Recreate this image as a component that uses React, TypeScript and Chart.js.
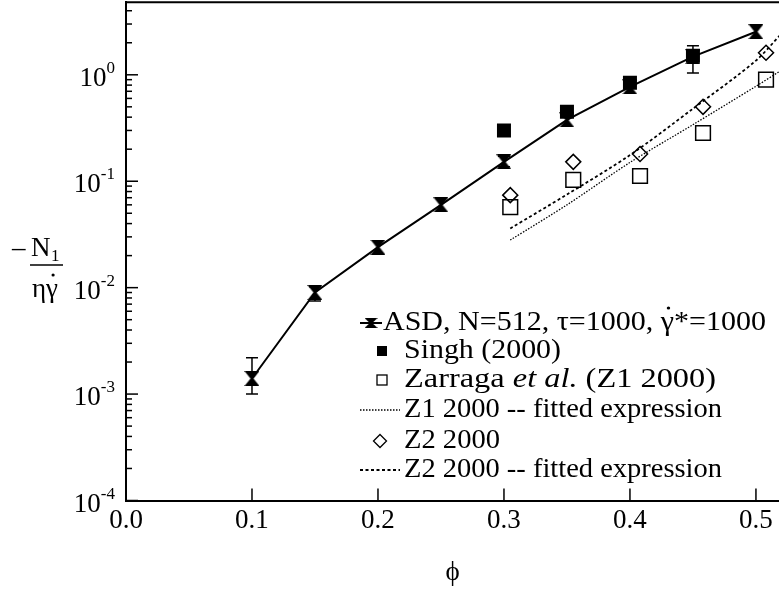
import { useEffect, useRef } from "react";
import { Chart, registerables } from "chart.js";
Chart.register(...registerables);

const SERIF = "'Liberation Serif', 'DejaVu Serif', serif";

// ---- data ----
const xTickValues = [0.0, 0.1, 0.2, 0.3, 0.4, 0.5];
const yDecades = [-4, -3, -2, -1, 0];

const asdPhi = [0.1, 0.15, 0.2, 0.25, 0.3, 0.35, 0.4, 0.45, 0.5];
const asdN1 = [0.0014, 0.009, 0.024, 0.06, 0.152, 0.377, 0.77, 1.48, 2.54];
const asdErrLow = [0.001, 0.0075, null, null, 0.137, null, null, 1.04, null];
const asdErrHigh = [0.0022, 0.0102, null, null, 0.172, null, null, 1.87, null];

const singhPhi = [0.3, 0.35, 0.4, 0.45];
const singhN1 = [0.3, 0.45, 0.84, 1.51];

const z1Phi = [0.305, 0.355, 0.408, 0.458, 0.508];
const z1N1 = [0.057, 0.103, 0.112, 0.284, 0.9];

const z2Phi = [0.305, 0.355, 0.408, 0.458, 0.508];
const z2N1 = [0.074, 0.152, 0.18, 0.5, 1.61];

const z1FitPhi = [0.305, 0.35, 0.4, 0.45, 0.5, 0.52];
const z1FitN1 = [0.028, 0.06, 0.15, 0.34, 0.78, 1.1];

const z2FitPhi = [0.305, 0.35, 0.4, 0.45, 0.5, 0.52];
const z2FitN1 = [0.036, 0.075, 0.176, 0.48, 1.36, 2.42];

const zip = (xs: number[], ys: number[]) => xs.map((x, i) => ({ x, y: ys[i] }));

function makeHourglass(w: number, h: number, waist: number) {
  const c = document.createElement("canvas");
  c.width = w;
  c.height = h;
  const g = c.getContext("2d")!;
  g.fillStyle = "#000";
  g.beginPath();
  g.moveTo(0, 0);
  g.lineTo(w, 0);
  g.lineTo(w / 2 + waist / 2, h / 2);
  g.lineTo(w, h);
  g.lineTo(0, h);
  g.lineTo(w / 2 - waist / 2, h / 2);
  g.closePath();
  g.fill();
  return c;
}

type Part = { t: string; italic?: boolean; dot?: boolean };

function drawRow(ctx: CanvasRenderingContext2D, parts: Part[], x: number, y: number, size: number, target: number) {
  const fontFor = (p: Part) => `${p.italic ? "italic " : ""}${size}px ${SERIF}`;
  let natural = 0;
  parts.forEach((p) => {
    ctx.font = fontFor(p);
    natural += ctx.measureText(p.t).width;
  });
  const sx = target / natural;
  ctx.save();
  ctx.translate(x, y);
  ctx.scale(sx, 1);
  let cx = 0;
  parts.forEach((p) => {
    ctx.font = fontFor(p);
    ctx.fillText(p.t, cx, 0);
    const w = ctx.measureText(p.t).width;
    if (p.dot) {
      ctx.beginPath();
      ctx.arc(cx + w / 2 + 1, -15, 1.6, 0, Math.PI * 2);
      ctx.fill();
    }
    cx += w;
  });
  ctx.restore();
}

export default function App() {
  const ref = useRef<HTMLCanvasElement>(null);

  useEffect(() => {
    const canvas = ref.current!;
    const hg = makeHourglass(15, 15, 3);

    const extras = {
      id: "extras",
      beforeDatasetsDraw(chart: any) {
        const ctx = chart.ctx;
        const xs = chart.scales.x;
        const ys = chart.scales.y;
        ctx.save();
        ctx.strokeStyle = "#000";
        ctx.lineWidth = 1.5;
        asdPhi.forEach((p, i) => {
          const lo = asdErrLow[i];
          const hi = asdErrHigh[i];
          if (lo == null || hi == null) return;
          const x = xs.getPixelForValue(p);
          const y1 = ys.getPixelForValue(lo);
          const y2 = ys.getPixelForValue(hi);
          ctx.beginPath();
          ctx.moveTo(x, y1);
          ctx.lineTo(x, y2);
          ctx.moveTo(x - 6, y1);
          ctx.lineTo(x + 6, y1);
          ctx.moveTo(x - 6, y2);
          ctx.lineTo(x + 6, y2);
          ctx.stroke();
        });
        ctx.restore();
      },
      afterDraw(chart: any) {
        const ctx = chart.ctx;
        const xs = chart.scales.x;
        const ys = chart.scales.y;
        const a = chart.chartArea;
        ctx.save();
        ctx.strokeStyle = "#000";
        ctx.fillStyle = "#000";
        // top frame
        ctx.lineWidth = 2;
        ctx.beginPath();
        ctx.moveTo(a.left - 1, a.top);
        ctx.lineTo(a.right, a.top);
        ctx.stroke();
        // x ticks (inward)
        ctx.lineWidth = 1.5;
        xTickValues.forEach((v) => {
          if (v === 0) return;
          const x = xs.getPixelForValue(v);
          ctx.beginPath();
          ctx.moveTo(x, a.bottom);
          ctx.lineTo(x, a.bottom - 12);
          ctx.stroke();
        });
        // y ticks (inward), major + minor
        for (let e = -4; e <= 0; e++) {
          for (let m = 1; m <= 9; m++) {
            const v = m * Math.pow(10, e);
            if (v > ys.max) continue;
            const y = ys.getPixelForValue(v);
            const len = m === 1 ? 12 : 6;
            ctx.beginPath();
            ctx.moveTo(a.left, y);
            ctx.lineTo(a.left + len, y);
            ctx.stroke();
          }
        }
        // y tick labels 10^e
        yDecades.forEach((e) => {
          const y = ys.getPixelForValue(Math.pow(10, e));
          const expStr = e === 0 ? "0" : "-" + Math.abs(e);
          ctx.font = `27px ${SERIF}`;
          const bw = ctx.measureText("10").width;
          ctx.font = `17px ${SERIF}`;
          const ew = ctx.measureText(expStr).width;
          const right = 115;
          const bx = right - ew - bw;
          ctx.textAlign = "left";
          ctx.textBaseline = "alphabetic";
          ctx.font = `27px ${SERIF}`;
          ctx.fillText("10", bx, y + 11);
          ctx.font = `17px ${SERIF}`;
          ctx.fillText(expStr, bx + bw, y - 2);
        });
        // y axis title: -N1 / eta gamma-dot
        ctx.textBaseline = "middle";
        ctx.textAlign = "left";
        ctx.font = `27px ${SERIF}`;
        ctx.fillText("\u2013", 12, 249);
        ctx.fillText("N", 31, 249);
        ctx.font = `17px ${SERIF}`;
        ctx.fillText("1", 51, 257);
        ctx.lineWidth = 1.3;
        ctx.beginPath();
        ctx.moveTo(30, 265);
        ctx.lineTo(63, 265);
        ctx.stroke();
        ctx.font = `27px ${SERIF}`;
        ctx.fillText("\u03B7", 32, 290);
        const etaW = ctx.measureText("\u03B7").width;
        ctx.fillText("\u03B3", 32 + etaW, 290);
        const gW = ctx.measureText("\u03B3").width;
        ctx.beginPath();
        ctx.arc(32 + etaW + gW / 2 + 1, 275, 1.6, 0, Math.PI * 2);
        ctx.fill();

        // legend
        const rowY = [323, 351, 380, 410, 441, 470];
        const tx = 404;
        const fs = 28;
        ctx.textBaseline = "middle";
        // 1 ASD
        ctx.lineWidth = 2;
        ctx.beginPath();
        ctx.moveTo(360, rowY[0]);
        ctx.lineTo(382, rowY[0]);
        ctx.stroke();
        ctx.drawImage(hg, 364.5, rowY[0] - 5, 13, 10);
        drawRow(ctx, [{ t: "ASD, N=512, \u03C4=1000, " }, { t: "\u03B3", dot: true }, { t: "*=1000" }], 383, rowY[0], fs, 383);
        // 2 Singh
        ctx.fillRect(382 - 5, rowY[1] - 5, 10, 10);
        drawRow(ctx, [{ t: "Singh (2000)" }], tx, rowY[1], fs, 157);
        // 3 Zarraga
        ctx.lineWidth = 1.3;
        ctx.strokeRect(382 - 5, rowY[2] - 5, 10, 10);
        drawRow(ctx, [{ t: "Zarraga " }, { t: "et al.", italic: true }, { t: " (Z1 2000)" }], tx, rowY[2], fs, 312);
        // 4 Z1 fit
        ctx.lineWidth = 1.3;
        ctx.setLineDash([1.5, 1.5]);
        ctx.beginPath();
        ctx.moveTo(360, rowY[3]);
        ctx.lineTo(400, rowY[3]);
        ctx.stroke();
        ctx.setLineDash([]);
        drawRow(ctx, [{ t: "Z1 2000 -- fitted expression" }], tx, rowY[3], fs, 318);
        // 5 diamond
        ctx.lineWidth = 1.3;
        ctx.beginPath();
        ctx.moveTo(380, rowY[4] - 6.5);
        ctx.lineTo(386.5, rowY[4]);
        ctx.lineTo(380, rowY[4] + 6.5);
        ctx.lineTo(373.5, rowY[4]);
        ctx.closePath();
        ctx.stroke();
        drawRow(ctx, [{ t: "Z2 2000" }], tx, rowY[4], fs, 96);
        // 6 Z2 fit
        ctx.lineWidth = 1.8;
        ctx.setLineDash([3, 2.5]);
        ctx.beginPath();
        ctx.moveTo(360, rowY[5]);
        ctx.lineTo(400, rowY[5]);
        ctx.stroke();
        ctx.setLineDash([]);
        drawRow(ctx, [{ t: "Z2 2000 -- fitted expression" }], tx, rowY[5], fs, 318);
        ctx.restore();
      },
    };

    const zeroPad = (s: any) => {
      s.paddingLeft = 0;
      s.paddingRight = 0;
      s.paddingTop = 0;
      s.paddingBottom = 0;
    };

    const chart = new Chart(canvas, {
      type: "line",
      data: {
        datasets: [
          {
            label: "Singh (2000)",
            data: zip(singhPhi, singhN1),
            showLine: false,
            pointStyle: "rect",
            pointRadius: 9.9,
            backgroundColor: "#000",
            borderColor: "#000",
            borderWidth: 0,
            order: 0,
          },
          {
            label: "ASD, N=512, τ=1000, γ*=1000",
            data: zip(asdPhi, asdN1),
            borderColor: "#000",
            borderWidth: 2,
            pointStyle: hg,
            pointRadius: 8,
            tension: 0,
            order: 1,
          },
          {
            label: "Zarraga et al. (Z1 2000)",
            data: zip(z1Phi, z1N1),
            showLine: false,
            pointStyle: "rect",
            pointRadius: 10.4,
            backgroundColor: "rgba(255,255,255,0)",
            borderColor: "#000",
            borderWidth: 1.5,
            order: 2,
          },
          {
            label: "Z2 2000",
            data: zip(z2Phi, z2N1),
            showLine: false,
            pointStyle: "rectRot",
            pointRadius: 7.5,
            backgroundColor: "rgba(255,255,255,0)",
            borderColor: "#000",
            borderWidth: 1.5,
            order: 3,
          },
          {
            label: "Z1 2000 -- fitted expression",
            data: zip(z1FitPhi, z1FitN1),
            borderColor: "#000",
            borderWidth: 1.3,
            borderDash: [1.5, 1.5],
            pointRadius: 0,
            tension: 0.3,
            order: 4,
          },
          {
            label: "Z2 2000 -- fitted expression",
            data: zip(z2FitPhi, z2FitN1),
            borderColor: "#000",
            borderWidth: 1.8,
            borderDash: [3, 2.5],
            pointRadius: 0,
            tension: 0.3,
            order: 5,
          },
        ],
      },
      options: {
        animation: false,
        responsive: false,
        layout: { autoPadding: false, padding: { top: 2.3, right: 0, left: 0, bottom: 0 } },
        plugins: { legend: { display: false }, tooltip: { enabled: false } },
        scales: {
          x: {
            type: "linear",
            min: 0,
            max: 0.5183,
            grid: { display: false, drawTicks: false },
            border: { display: true, color: "#000", width: 2 },
            ticks: {
              font: { family: SERIF, size: 27 },
              color: "#000",
              padding: 4,
              maxRotation: 0,
              autoSkip: false,
              callback: (v: any) => Number(v).toFixed(1),
            },
            afterBuildTicks: (s: any) => {
              s.ticks = xTickValues.map((v) => ({ value: v }));
            },
            title: {
              display: true,
              text: "\u03D5",
              font: { family: SERIF, size: 27 },
              color: "#000",
              padding: { top: 0, bottom: 1 },
            },
            afterFit: (s: any) => {
              s.height = 89.5;
              zeroPad(s);
            },
          },
          y: {
            type: "logarithmic",
            min: 1e-4,
            max: 4.8,
            grid: { display: false, drawTicks: false },
            border: { display: true, color: "#000", width: 2 },
            ticks: { display: false },
            afterFit: (s: any) => {
              s.width = 126;
              zeroPad(s);
            },
          },
        },
      },
      plugins: [extras],
    } as any);
    return () => chart.destroy();
  }, []);

  return (
    <div style={{ position: "fixed", left: 0, top: 0, width: 779, height: 590, background: "#fff" }}>
      <canvas ref={ref} width={779} height={590} style={{ display: "block", width: 779, height: 590 }} />
    </div>
  );
}
